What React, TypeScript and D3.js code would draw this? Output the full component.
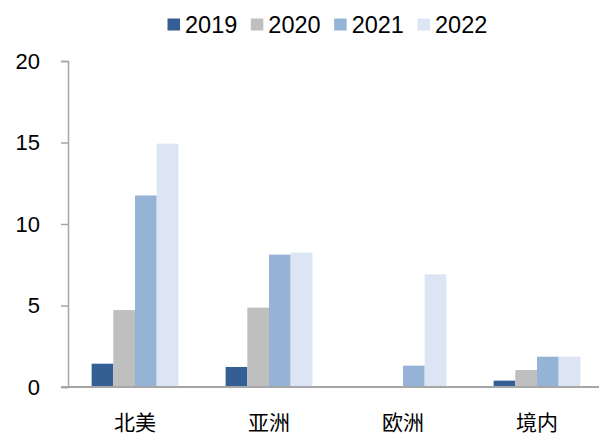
import { useEffect, useRef } from 'react';
import * as d3 from 'd3';

const W = 599
const H = 435
const margin = { top: 61, right: -5, bottom: 48, left: 68 }

const categories = ['北美', '亚洲', '欧洲', '境内']
const series = ['2019', '2020', '2021', '2022']
const colors = ['#345F94', '#BFBFBF', '#95B3D7', '#DBE5F3']

// values per series, in category order
const v2019 = [1.43, 1.23, 0, 0.39]
const v2020 = [4.72, 4.87, 0, 1.04]
const v2021 = [11.75, 8.12, 1.31, 1.86]
const v2022 = [14.93, 8.25, 6.91, 1.86]
const values = [v2019, v2020, v2021, v2022]

const yTicks = [0, 5, 10, 15, 20]

const font = '"Liberation Sans", Arial, "Noto Sans CJK SC", sans-serif'

const App = () => {
  const ref = useRef<SVGSVGElement>(null)

  useEffect(() => {
    if (!ref.current) return
    const svg = d3.select(ref.current)
    svg.selectAll('*').remove()

    const x0 = d3.scaleBand()
      .domain(categories)
      .range([margin.left, W - margin.right])
      .padding(0)

    const x1 = d3.scaleBand()
      .domain(series)
      .range([0, x0.bandwidth()])
      .paddingInner(0)
      .paddingOuter(1.09)

    const y = d3.scaleLinear()
      .domain([0, 20])
      .range([H - margin.bottom, margin.top])

    // bars
    series.forEach((s, si) => {
      svg.append('g')
        .selectAll('rect')
        .data(categories.map((c, ci) => ({ c, v: values[si][ci] })))
        .enter()
        .append('rect')
        .attr('x', d => (x0(d.c) as number) + (x1(s) as number))
        .attr('y', d => y(d.v))
        .attr('width', x1.bandwidth())
        .attr('height', d => y(0) - y(d.v))
        .attr('fill', colors[si])
    })

    // y axis
    const yAxis = d3.axisLeft(y).tickValues(yTicks).tickSize(7).tickPadding(21)
    const gy = svg.append('g')
      .attr('transform', `translate(${margin.left},0)`)
      .call(yAxis)
    gy.select('.domain').attr('stroke', '#A6A6A6').attr('stroke-width', 1.5)
    gy.selectAll('.tick line').attr('stroke', '#A6A6A6').attr('stroke-width', 1.5)
    gy.selectAll('.tick text')
      .attr('fill', '#000')
      .style('font-family', font)
      .style('font-size', '22px')

    // x axis
    svg.append('line')
      .attr('x1', margin.left - 7)
      .attr('x2', W)
      .attr('y1', y(0))
      .attr('y2', y(0))
      .attr('stroke', '#A6A6A6')
      .attr('stroke-width', 2)

    svg.append('g')
      .selectAll('text')
      .data(categories)
      .enter()
      .append('text')
      .attr('x', d => (x0(d) as number) + x0.bandwidth() / 2)
      .attr('y', 430)
      .attr('text-anchor', 'middle')
      .style('font-family', font)
      .style('font-size', '21px')
      .attr('fill', '#000')
      .text(d => d)

    // legend
    const legendX = d3.scalePoint().domain(series).range([167.5, 417.5])
    const lg = svg.append('g')
    series.forEach((s, i) => {
      const lx = legendX(s) as number
      lg.append('rect')
        .attr('x', lx)
        .attr('y', 18.5)
        .attr('width', 12.5)
        .attr('height', 12)
        .attr('fill', colors[i])
      lg.append('text')
        .attr('x', lx + 17.5)
        .attr('y', 32.5)
        .style('font-family', font)
        .style('font-size', '23.5px')
        .attr('fill', '#000')
        .text(s)
    })
  }, [])

  return (
    <svg
      ref={ref}
      width={W}
      height={H}
      style={{ position: 'absolute', left: 0, top: 0, background: '#fff' }}
    ></svg>
  )
}

export default App;
